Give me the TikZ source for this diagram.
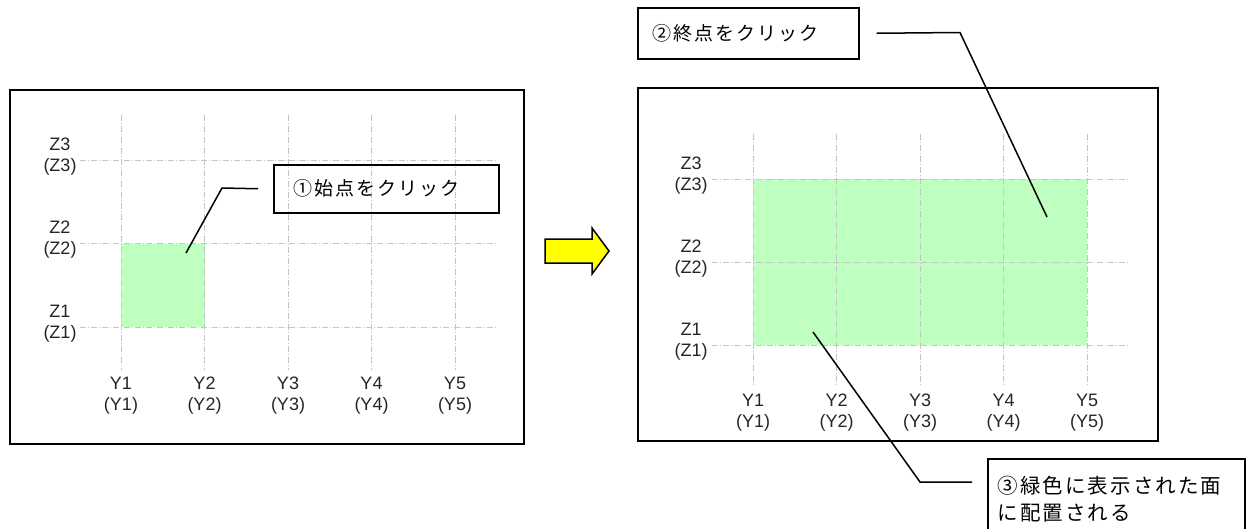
\documentclass[tikz,border=0pt]{standalone}
\usepackage{fontspec}
\setmainfont{Liberation Sans}
\newfontfamily\jpfont[LetterSpace=10]{Noto Sans CJK JP}
\definecolor{gridgray}{HTML}{C4C4C4}
\definecolor{selgreen}{HTML}{BFFFBF}
\definecolor{arrowyellow}{HTML}{FFFF00}
\tikzset{
  panel/.style={draw=black, line width=2pt, anchor=north west, inner sep=0pt},
  gridline/.style={draw=gridgray, line width=1pt, dash pattern=on 6pt off 2pt on 1pt off 2pt},
  glabel/.style={font=\fontsize{18}{21}\selectfont, align=center, inner sep=0pt, text=black!85},
  callout/.style={draw=black, line width=1.5pt, anchor=north west, align=left, inner ysep=0pt},
  leader/.style={draw=black, line width=1.5pt},
  bigarrow/.style={draw=black, fill=arrowyellow, line width=1.5pt, line join=miter}
}
\begin{document}
\begin{tikzpicture}[x=1pt,y=-1pt]
\useasboundingbox (0,0) rectangle (1246,528);
\clip (0,0) rectangle (1246,528);
\fill[white] (0,0) rectangle (1246,528);

% ---------- left panel ----------
\node[panel, minimum width=514pt, minimum height=354pt] (p1) at (9,89) {};
\fill[selgreen] (121,243.5) rectangle (204.5,327);
\foreach \x in {121,204.5,288,371.5,455} \draw[gridline] (\x,115) -- (\x,370);
\foreach \y in {160,243.5,327} \draw[gridline] (80,\y) -- (497,\y);
\foreach \x/\n in {121/1,204.5/2,288/3,371.5/4,455/5}
  \node[glabel] (ly\n) at (\x,395.5) {Y\n\\(Y\n)};
\foreach \y/\n in {160/3,243.5/2,327/1}
  \node[glabel] (lz\n) at (60,\y-3.5) {Z\n\\(Z\n)};

% ---------- right panel ----------
\node[panel, minimum width=520pt, minimum height=353pt] (p2) at (637,86.5) {};
\fill[selgreen] (753,179) rectangle (1087,345);
\foreach \x in {753,836.5,920,1003.5,1087} \draw[gridline] (\x,134) -- (\x,385);
\foreach \y in {179,262,345} \draw[gridline] (712,\y) -- (1128,\y);
\foreach \x/\n in {753/1,836.5/2,920/3,1003.5/4,1087/5}
  \node[glabel] (ry\n) at (\x,413) {Y\n\\(Y\n)};
\foreach \y/\n in {179/3,262/2,345/1}
  \node[glabel] (rz\n) at (691,\y-3) {Z\n\\(Z\n)};

% ---------- arrow ----------
\draw[bigarrow] (545,239) -- (592,239) -- (592,228) -- (609,251) -- (592,274) -- (592,263) -- (545,263) -- cycle;

% ---------- callouts ----------
\node[callout, minimum width=225pt, minimum height=48pt, inner xsep=20pt, text width=185pt,
      font=\jpfont\fontsize{19}{27}\selectfont] (b1) at (273,164) {①始点をクリック};
\node[callout, minimum width=221pt, minimum height=51pt, inner xsep=15pt, text width=191pt,
      font=\jpfont\fontsize{19}{27}\selectfont] (b2) at (637,7) {②終点をクリック};
\node[callout, minimum width=257pt, minimum height=81pt, inner xsep=10pt, text width=237pt,
      font=\jpfont\fontsize{20.5}{27}\selectfont] (b3) at (987,458) {③緑色に表示された面\\に配置される};

% ---------- leaders ----------
\coordinate (k1) at (222,188);
\coordinate (e1) at (186,253);
\draw[leader] ([xshift=-15pt]b1.west) -- (k1) -- (e1);
\coordinate (k2) at (960,32.5);
\coordinate (e2) at (1047,217);
\draw[leader] ([xshift=17pt]b2.east) -- (k2) -- (e2);
\coordinate (k3) at (920,482);
\coordinate (e3) at (813,332);
\draw[leader] ([shift={(-15pt,-24pt)}]b3.north west) -- (k3) -- (e3);
\end{tikzpicture}
\end{document}
